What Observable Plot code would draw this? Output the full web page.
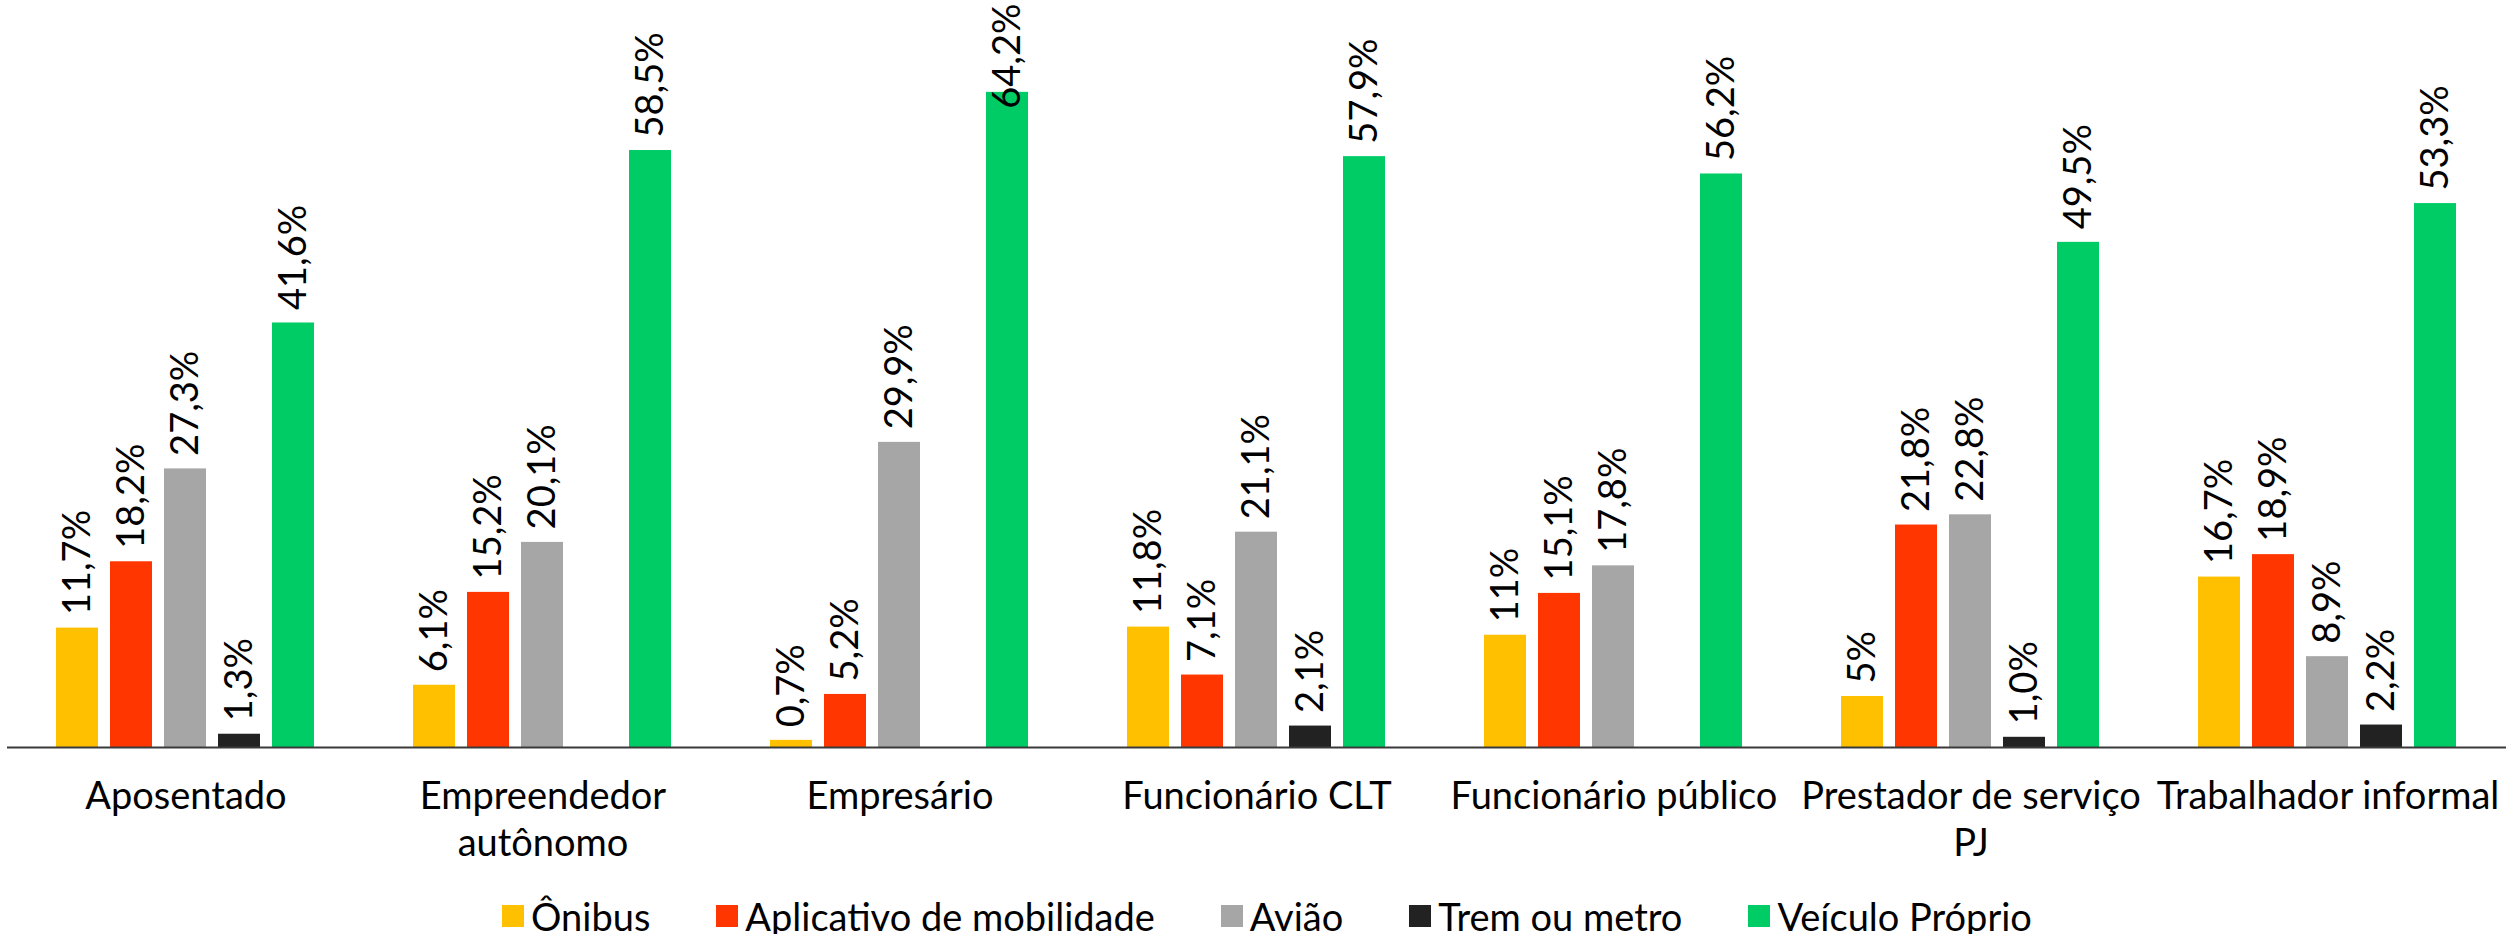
<!DOCTYPE html>
<html lang="pt-BR">
<head>
<meta charset="utf-8">
<script src="https://cdn.jsdelivr.net/npm/d3@7"></script>
<script src="https://cdn.jsdelivr.net/npm/@observablehq/plot@0.6"></script>
<style>
  body { margin: 0; background: #fff; font-family: Lato, "Noto Sans", sans-serif; }
  #grafico svg { display: block; }
  #legenda { display: flex; justify-content: center; align-items: center; margin-top: 7px; padding-left: 22px; font-size: 38px; color: #000; line-height: 1; }
  #legenda .item { display: flex; align-items: center; margin: 0 33px; }
  #legenda .sw { width: 22px; height: 22px; margin-right: 7px; flex: none; }
</style>
</head>
<body>
<div id="grafico"></div>
<div id="legenda"></div>
<script>
// Categorias profissionais (grupos do eixo) e seus rótulos em uma ou duas linhas
const categorias = ["Aposentado", "Empreendedor autônomo", "Empresário", "Funcionário CLT",
  "Funcionário público", "Prestador de serviço PJ", "Trabalhador informal"];
const rotulosEixo = ["Aposentado", "Empreendedor\nautônomo", "Empresário", "Funcionário CLT",
  "Funcionário público", "Prestador de serviço\nPJ", "Trabalhador informal"];

// Meios de transporte (séries) e cores
const modos = ["Ônibus", "Aplicativo de mobilidade", "Avião", "Trem ou metro", "Veículo Próprio"];
const cores = ["#FFC000", "#FF3600", "#A6A6A6", "#222222", "#00CC66"];

// Percentuais por categoria, como exibidos nos rótulos (null = sem valor)
const onibus     = ["11,7", "6,1", "0,7", "11,8", "11", "5", "16,7"];
const aplicativo = ["18,2", "15,2", "5,2", "7,1", "15,1", "21,8", "18,9"];
const aviao      = ["27,3", "20,1", "29,9", "21,1", "17,8", "22,8", "8,9"];
const trem       = ["1,3", null, null, "2,1", null, "1,0", "2,2"];
const veiculo    = ["41,6", "58,5", "64,2", "57,9", "56,2", "49,5", "53,3"];
const series = [onibus, aplicativo, aviao, trem, veiculo];

const linhas = [];
modos.forEach((modo, j) => {
  series[j].forEach((s, i) => {
    if (s == null) return;
    linhas.push({categoria: categorias[i], modo, valor: +s.replace(",", "."), rotulo: s + "%"});
  });
});

const yMax = 73.2;
// rótulos que cabem acima da barra; os demais ficam presos ao topo da área
const cabeAcima = d => d.valor <= yMax - 10;

const grafico = Plot.plot({
  width: 2512,
  height: 890,
  marginTop: 0,
  marginLeft: 7,
  marginRight: 6,
  marginBottom: 143,
  style: {fontFamily: "Lato, 'Noto Sans', sans-serif", fontSize: "38px", color: "#000", background: "#fff"},
  fx: {domain: categorias, padding: 0, label: null},
  x: {domain: modos, paddingInner: 0.215, paddingOuter: 0.868, axis: null},
  y: {domain: [0, yMax], axis: null},
  color: {domain: modos, range: cores},
  marks: [
    Plot.barY(linhas, {fx: "categoria", x: "modo", y: "valor", fill: "modo"}),
    Plot.ruleY([0], {stroke: "#3a3a3a", strokeWidth: 2}),
    Plot.text(linhas.filter(cabeAcima), {
      fx: "categoria", x: "modo", y: "valor", text: "rotulo",
      rotate: -90, textAnchor: "start", lineAnchor: "middle", dy: -13, fill: "#000"
    }),
    Plot.text(linhas.filter(d => !cabeAcima(d)), {
      fx: "categoria", x: "modo", text: "rotulo", frameAnchor: "top",
      rotate: -90, textAnchor: "end", lineAnchor: "middle", dy: 3, fill: "#000"
    }),
    Plot.axisFx({
      anchor: "bottom", tickSize: 0, tickPadding: 28, label: null, lineHeight: 1.24,
      tickFormat: d => rotulosEixo[categorias.indexOf(d)]
    })
  ]
});
document.getElementById("grafico").append(grafico);

// Legenda horizontal abaixo do gráfico
const legenda = document.getElementById("legenda");
modos.forEach((m, i) => {
  const item = document.createElement("div");
  item.className = "item";
  const sw = document.createElement("span");
  sw.className = "sw";
  sw.style.background = cores[i];
  const t = document.createElement("span");
  t.textContent = m;
  item.append(sw, t);
  legenda.append(item);
});
</script>
</body>
</html>
